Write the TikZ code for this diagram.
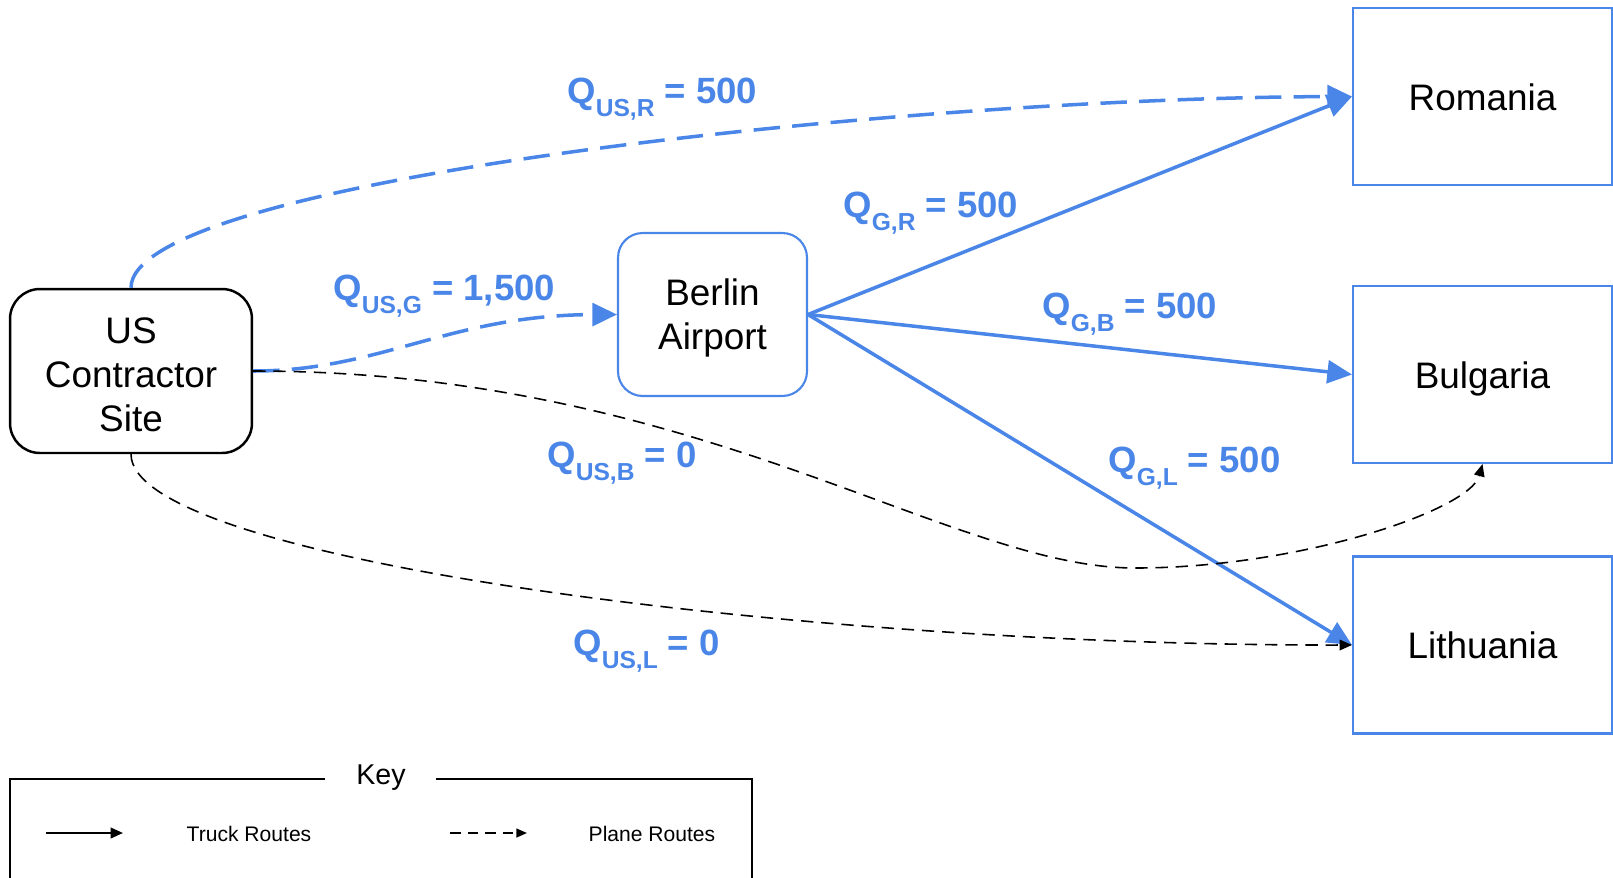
\documentclass[tikz,border=0pt]{standalone}
\usepackage{fontspec}
\setmainfont{Liberation Sans}
\usetikzlibrary{arrows.meta}
\definecolor{routeblue}{RGB}{74,134,232}
\newcommand{\qflow}[2]{Q\raisebox{-7.5pt}{\fontsize{14}{15}\selectfont #1} = #2}

\begin{document}
\begin{tikzpicture}[x=0.02cm,y=-0.02cm,
  site/.style={draw,line width=1.4pt,rounded corners=17pt,minimum width=4.84cm,
    minimum height=3.28cm,inner sep=0pt,align=center,
    font=\fontsize{21}{25}\selectfont},
  hub/.style={site,draw=routeblue,line width=1.2pt,rounded corners=14pt,
    minimum width=3.78cm,minimum height=3.26cm},
  dest/.style={site,draw=routeblue,line width=1.2pt,sharp corners,
    minimum width=5.18cm,minimum height=3.54cm,text height=15.5pt,text depth=0pt},
  flow/.style={text=routeblue,anchor=base west,inner sep=0pt,
    font=\fontsize{20.8}{24}\selectfont\bfseries},
  truck/.style={routeblue,line width=2pt,-{Triangle[length=14pt,width=13pt]}},
  plane/.style={truck,dash pattern=on 15pt off 7pt},
  idle/.style={black,line width=0.9pt,dash pattern=on 7pt off 4.5pt,
    -{Triangle[length=7pt,width=6pt]}},
  keytxt/.style={font=\fontsize{12}{14}\selectfont}]
 \useasboundingbox (0,0) rectangle (1613,877);
 \clip (0,0) rectangle (1613,877);
 % Sites
 \node[site] (us) at (131,371) {\rule{0pt}{18.5pt}US\\Contractor\\Site};
 \node[hub] (ber) at (712.5,314.5) {\rule{0pt}{19.5pt}Berlin\\Airport};
 \node[dest] (rom) at (1482.5,96.5) {Romania};
 \node[dest] (bul) at (1482.5,374.5) {Bulgaria};
 \node[dest] (lit) at (1482.5,645) {Lithuania};
 \coordinate (dip) at (1135,568);
 % Routes
 \draw[plane] (us.north) .. controls (131,180) and (900,98) .. (rom.west);
 \draw[plane] (us.east) .. controls (380,371) and (450,315) .. (ber.west);
 \draw[truck] (ber.east) -- (rom.west);
 \draw[truck] (ber.east) -- (bul.west);
 \draw[truck] (ber.east) -- (lit.west);
 \draw[idle] (us.east) .. controls (700,371) and (950,568) .. (dip)
   .. controls (1300,568) and (1470,510) .. (bul.south);
 \draw[idle] (us.south) .. controls (131,560) and (800,646) .. (lit.west);
 % Flows
 \node[flow] (qusr) at (567,103) {\qflow{US,R}{500}};
 \node[flow] (qusg) at (333,300) {\qflow{US,G}{1,500}};
 \node[flow] (qgr) at (843,217) {\qflow{G,R}{500}};
 \node[flow] (qgb) at (1042,318) {\qflow{G,B}{500}};
 \node[flow] (qusb) at (547,467) {\qflow{US,B}{0}};
 \node[flow] (qgl) at (1108,472) {\qflow{G,L}{500}};
 \node[flow] (qusl) at (573,655) {\qflow{US,L}{0}};
 % Key
 \coordinate (kgl) at (325,779);
 \coordinate (kgr) at (436,779);
 \coordinate (kbl) at (10,890);
 \coordinate (kbr) at (752,890);
 \draw[line width=1.2pt] (kgl) -| (kbl);
 \draw[line width=1.2pt] (kgr) -| (kbr);
 \node[font=\fontsize{16.3}{18}\selectfont,anchor=base] (key) at (381,784) {Key};
 \coordinate (tr1) at (46,833);
 \coordinate (tr2) at (123,833);
 \coordinate (pl1) at (450,833);
 \coordinate (pl2) at (527,833);
 \draw[line width=1.2pt,-{Triangle[length=7pt,width=6pt]}] (tr1) -- (tr2);
 \draw[line width=0.9pt,dash pattern=on 6pt off 4pt,-{Triangle[length=6pt,width=5pt]}] (pl1) -- (pl2);
 \node[keytxt] (trk) at (249,834) {Truck Routes};
 \node[keytxt] (pln) at (652,834) {Plane Routes};
\end{tikzpicture}
\end{document}
